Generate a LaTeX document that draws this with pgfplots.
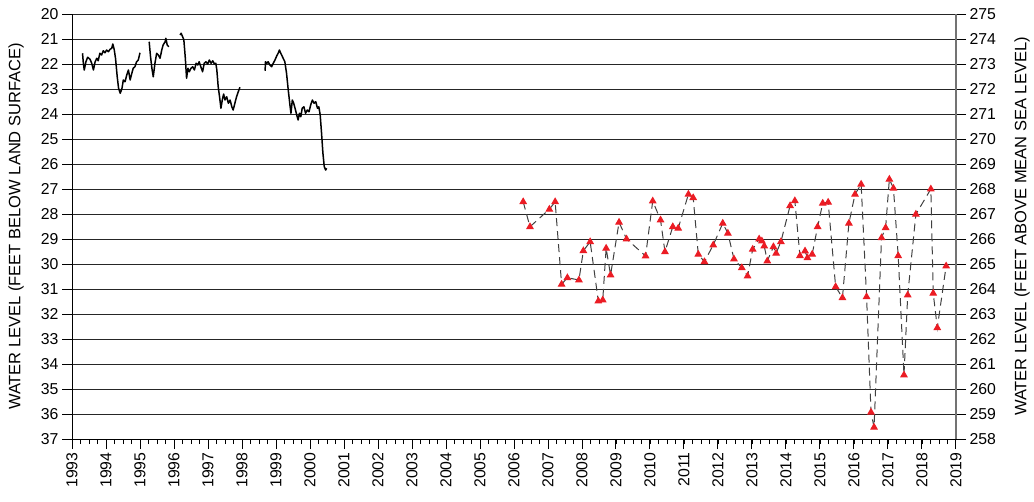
\documentclass[border=0pt]{standalone}
\usepackage{pgfplots}
\pgfplotsset{compat=1.18}
\usepackage{fontspec}
\setmainfont{Liberation Sans}

\definecolor{tri}{RGB}{235,28,36}

\begin{document}
\begin{tikzpicture}
\path[use as bounding box] (-72pt,-62pt) rectangle (962pt,439pt);
\begin{axis}[
  width=884pt, height=425pt, scale only axis,
  xmin=1993, xmax=2019, ymin=20, ymax=37, y dir=reverse,
  axis x line*=bottom, axis y line*=left,
  xtick={1993,1994,...,2019},
  minor xtick={1993.25,1993.5,...,2018.75},
  ytick={20,21,...,37},
  ymajorgrids, grid style={black!85, line width=0.9pt},
  tick align=outside, major tick length=10pt, minor tick length=5pt,
  major tick style={black, line width=0.9pt},
  minor tick style={black, line width=0.9pt},
  axis line style={black, line width=0.9pt},
  /pgf/number format/assume math mode=true,
  /pgf/number format/1000 sep={},
  tick label style={font=\fontsize{15.8}{18}\selectfont},
  xticklabel style={rotate=90, anchor=east},
  ylabel={WATER LEVEL (FEET BELOW LAND SURFACE)},
  every axis y label/.style={at={(axis description cs:-0.0633,0.5)}, rotate=90, anchor=center, font=\fontsize{16.5}{19}\selectfont},
  unbounded coords=jump,
]
% continuous record
\addplot[black, line width=1.5pt, line join=round] coordinates {
(1993.31,21.57) (1993.33,21.91) (1993.36,22.24) (1993.41,21.91) (1993.46,21.73)
(1993.53,21.81) (1993.58,21.97) (1993.63,22.24) (1993.68,21.91) (1993.73,21.77)
(1993.77,21.87) (1993.82,21.57) (1993.87,21.64) (1993.92,21.47) (1993.97,21.55)
(1994.02,21.44) (1994.07,21.51) (1994.12,21.41) (1994.17,21.37) (1994.20,21.20)
(1994.24,21.41) (1994.28,21.77) (1994.33,22.51) (1994.37,22.97) (1994.42,23.17)
(1994.47,22.97) (1994.51,22.64) (1994.56,22.71) (1994.61,22.44) (1994.66,22.24)
(1994.71,22.64) (1994.76,22.37) (1994.80,22.17) (1994.85,22.11) (1994.90,21.91)
(1994.95,21.84) (1995.00,21.55)
(1995.10,nan)
(1995.27,21.11) (1995.31,21.71) (1995.35,22.17) (1995.39,22.51) (1995.44,21.97)
(1995.49,21.57) (1995.54,21.64) (1995.59,21.77) (1995.64,21.44) (1995.68,21.24)
(1995.74,21.11) (1995.76,20.97) (1995.80,21.24) (1995.85,21.31)
(1996.00,nan)
(1996.18,20.84) (1996.21,20.77) (1996.26,20.93) (1996.29,21.04) (1996.33,21.71)
(1996.37,22.57) (1996.41,22.17) (1996.45,22.31) (1996.50,22.17) (1996.55,22.11)
(1996.60,22.24) (1996.65,21.97) (1996.70,22.04) (1996.74,21.91) (1996.79,22.11)
(1996.84,22.31) (1996.89,21.97) (1996.94,21.91) (1996.99,22.00) (1997.04,21.84)
(1997.09,21.97) (1997.14,21.87) (1997.19,22.00) (1997.23,21.97) (1997.26,22.24)
(1997.30,22.91) (1997.34,23.31) (1997.38,23.77) (1997.42,23.44) (1997.46,23.20)
(1997.50,23.44) (1997.55,23.31) (1997.60,23.57) (1997.65,23.44) (1997.70,23.71)
(1997.74,23.84) (1997.79,23.57) (1997.84,23.31) (1997.89,23.11) (1997.94,22.93)
(1998.30,nan)
(1998.68,22.27) (1998.69,21.91) (1998.73,21.97) (1998.77,21.91) (1998.82,22.04)
(1998.87,22.11) (1998.92,21.97) (1998.97,21.84) (1999.02,21.68) (1999.07,21.55)
(1999.10,21.44) (1999.14,21.57) (1999.18,21.68) (1999.21,21.77) (1999.26,21.91)
(1999.31,22.37) (1999.36,23.04) (1999.41,23.64) (1999.44,23.97) (1999.48,23.44)
(1999.52,23.57) (1999.56,23.77) (1999.61,24.04) (1999.65,24.24) (1999.69,23.97)
(1999.73,24.11) (1999.77,23.77) (1999.82,23.71) (1999.87,23.97) (1999.92,23.84)
(1999.97,23.91) (2000.02,23.64) (2000.07,23.44) (2000.12,23.57) (2000.17,23.51)
(2000.22,23.77) (2000.26,23.71) (2000.30,24.04) (2000.34,24.77) (2000.38,25.57)
(2000.42,26.11) (2000.46,26.24) (2000.49,26.17)
};
% periodic measurements
\addplot[black!75, line width=1pt, dash pattern=on 8pt off 5pt,
  mark=triangle*, mark size=3.5pt, mark options={solid, fill=tri, draw=tri}] coordinates {
(2006.27,27.51) (2006.47,28.51) (2007.04,27.81) (2007.21,27.51) (2007.40,30.81)
(2007.57,30.55) (2007.91,30.64) (2008.04,29.47) (2008.24,29.11) (2008.48,31.48)
(2008.61,31.44) (2008.71,29.37) (2008.84,30.44) (2009.09,28.33) (2009.31,29.00)
(2009.87,29.68) (2010.08,27.48) (2010.31,28.24) (2010.44,29.51) (2010.67,28.51)
(2010.83,28.57) (2011.13,27.21) (2011.27,27.35) (2011.42,29.61) (2011.60,29.91)
(2011.86,29.24) (2012.14,28.37) (2012.29,28.77) (2012.47,29.80) (2012.70,30.15)
(2012.87,30.48) (2013.02,29.41) (2013.21,29.00) (2013.29,29.08) (2013.36,29.28)
(2013.45,29.88) (2013.63,29.31) (2013.71,29.57) (2013.85,29.11) (2014.12,27.67)
(2014.26,27.47) (2014.41,29.67) (2014.56,29.48) (2014.63,29.75) (2014.77,29.61)
(2014.93,28.51) (2015.08,27.57) (2015.24,27.53) (2015.46,30.91) (2015.66,31.35)
(2015.85,28.37) (2016.03,27.21) (2016.21,26.81) (2016.37,31.31) (2016.50,35.93)
(2016.59,36.53) (2016.81,28.95) (2016.93,28.55) (2017.04,26.61) (2017.16,26.97)
(2017.30,29.67) (2017.47,34.44) (2017.58,31.24) (2017.82,28.01) (2018.26,27.00)
(2018.33,31.17) (2018.45,32.55) (2018.71,30.08)
};
\end{axis}
\begin{axis}[
  width=884pt, height=425pt, scale only axis,
  xmin=1993, xmax=2019, ymin=258, ymax=275,
  hide x axis, axis y line*=right,
  ytick={258,259,...,275},
  tick align=outside, major tick length=10pt,
  major tick style={black, line width=0.9pt},
  y axis line style={black!55, line width=1.3pt},
  /pgf/number format/assume math mode=true,
  tick label style={font=\fontsize{15.8}{18}\selectfont},
  ylabel={WATER LEVEL (FEET ABOVE MEAN SEA LEVEL)},
  every axis y label/.style={at={(axis description cs:1.0747,0.5)}, rotate=90, anchor=center, font=\fontsize{16.5}{19}\selectfont},
]
\addplot[draw=none] coordinates {(1993,258)};
\end{axis}
\end{tikzpicture}
\end{document}
